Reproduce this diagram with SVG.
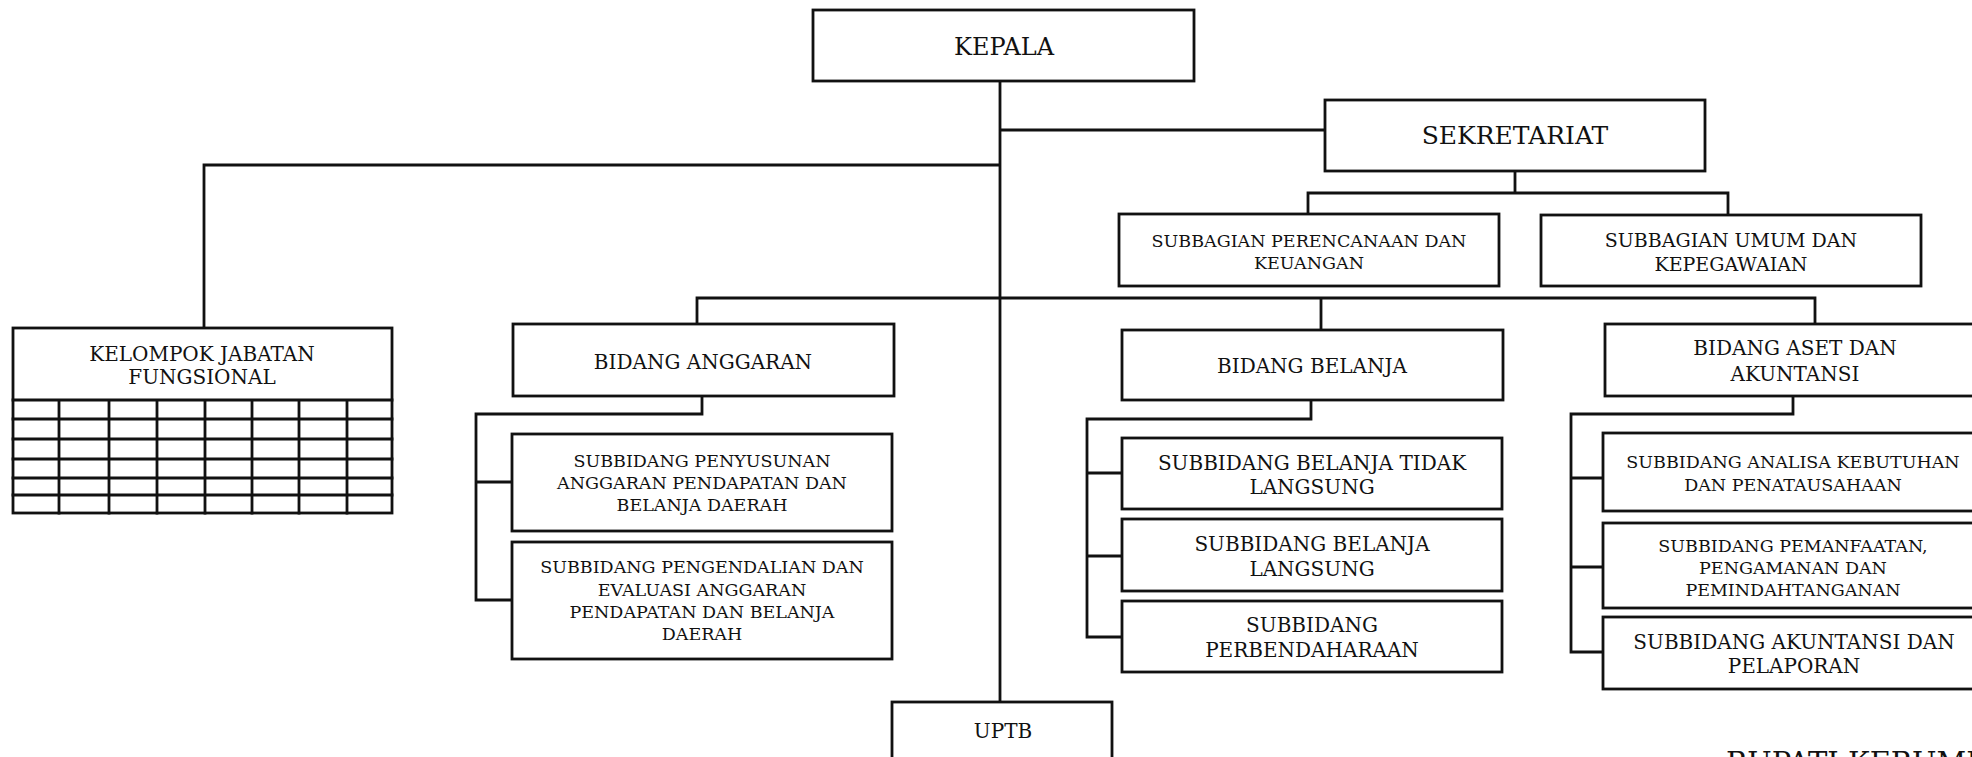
<svg xmlns="http://www.w3.org/2000/svg" width="1972" height="757" viewBox="0 0 1972 757">
<style>
.box{fill:#fff;stroke:#111;stroke-width:2.8}
.ln{fill:none;stroke:#111;stroke-width:2.8;stroke-linecap:square}
text{font-family:"DejaVu Serif","Liberation Serif",serif;fill:#111;text-anchor:middle}
.f24{font-size:24px}.f25{font-size:25px}.f20{font-size:20px}.f17{font-size:17.5px}.f18{font-size:19px}
</style>
<rect width="1972" height="757" fill="#fff"/>
<g id="connectors">
<path class="ln" d="M1000,81V702M1000,130H1325M204,165H1000M204,165V328"/>
<path class="ln" d="M1515,171V193M1308,193H1728M1308,193V214M1728,193V215"/>
<path class="ln" d="M697,298H1815M697,298V324M1321,298V330M1815,298V324"/>
<path class="ln" d="M702,396V414M476,414H702M476,414V600M476,482H512M476,600H512"/>
<path class="ln" d="M1311,400V419M1087,419H1311M1087,419V637M1087,473H1122M1087,556H1122M1087,637H1122"/>
<path class="ln" d="M1793,396V414M1571,414H1793M1571,414V652M1571,478H1603M1571,567H1603M1571,652H1603"/>
</g>
<g id="kepala"><rect class="box" x="813" y="10" width="381" height="71"/><text class="f24" x="1004" y="55">KEPALA</text></g>
<g id="sekretariat"><rect class="box" x="1325" y="100" width="380" height="71"/><text class="f25" x="1515" y="144">SEKRETARIAT</text></g>
<g id="subbagian-perencanaan"><rect class="box" x="1119" y="214" width="380" height="72"/><text class="f17" x="1309" y="247">SUBBAGIAN PERENCANAAN DAN</text><text class="f17" x="1309" y="269">KEUANGAN</text></g>
<g id="subbagian-umum"><rect class="box" x="1541" y="215" width="380" height="71"/><text class="f18" x="1731" y="247">SUBBAGIAN UMUM DAN</text><text class="f18" x="1731" y="271">KEPEGAWAIAN</text></g>
<g id="kelompok">
<rect class="box" x="13" y="328" width="379" height="185"/>
<path class="ln" d="M13,400H392M13,419H392M13,439H392M13,459H392M13,478H392M13,495H392M59,400V513M109,400V513M157,400V513M205,400V513M252,400V513M299,400V513M347,400V513"/>
<text class="f20" x="202" y="361">KELOMPOK JABATAN</text><text class="f20" x="202" y="384">FUNGSIONAL</text>
</g>
<g id="bidang-anggaran"><rect class="box" x="513" y="324" width="381" height="72"/><text class="f20" x="703" y="369">BIDANG ANGGARAN</text></g>
<g id="subbidang-penyusunan"><rect class="box" x="512" y="434" width="380" height="97"/><text class="f17" x="702" y="467">SUBBIDANG PENYUSUNAN</text><text class="f17" x="702" y="489">ANGGARAN PENDAPATAN DAN</text><text class="f17" x="702" y="511">BELANJA DAERAH</text></g>
<g id="subbidang-pengendalian"><rect class="box" x="512" y="542" width="380" height="117"/><text class="f17" x="702" y="573">SUBBIDANG PENGENDALIAN DAN</text><text class="f17" x="702" y="596">EVALUASI ANGGARAN</text><text class="f17" x="702" y="618">PENDAPATAN DAN BELANJA</text><text class="f17" x="702" y="640">DAERAH</text></g>
<g id="bidang-belanja"><rect class="box" x="1122" y="330" width="381" height="70"/><text class="f20" x="1312" y="373">BIDANG BELANJA</text></g>
<g id="subbidang-btl"><rect class="box" x="1122" y="438" width="380" height="71"/><text class="f20" x="1312" y="470">SUBBIDANG BELANJA TIDAK</text><text class="f20" x="1312" y="494">LANGSUNG</text></g>
<g id="subbidang-bl"><rect class="box" x="1122" y="519" width="380" height="72"/><text class="f20" x="1312" y="551">SUBBIDANG BELANJA</text><text class="f20" x="1312" y="576">LANGSUNG</text></g>
<g id="subbidang-perbendaharaan"><rect class="box" x="1122" y="601" width="380" height="71"/><text class="f20" x="1312" y="632">SUBBIDANG</text><text class="f20" x="1312" y="657">PERBENDAHARAAN</text></g>
<g id="bidang-aset"><rect class="box" x="1605" y="324" width="380" height="72"/><text class="f20" x="1795" y="355">BIDANG ASET DAN</text><text class="f20" x="1795" y="381">AKUNTANSI</text></g>
<g id="subbidang-analisa"><rect class="box" x="1603" y="433" width="380" height="78"/><text class="f17" x="1793" y="468">SUBBIDANG ANALISA KEBUTUHAN</text><text class="f17" x="1793" y="491">DAN PENATAUSAHAAN</text></g>
<g id="subbidang-pemanfaatan"><rect class="box" x="1603" y="523" width="380" height="85"/><text class="f17" x="1793" y="552">SUBBIDANG PEMANFAATAN,</text><text class="f17" x="1793" y="574">PENGAMANAN DAN</text><text class="f17" x="1793" y="596">PEMINDAHTANGANAN</text></g>
<g id="subbidang-akuntansi"><rect class="box" x="1603" y="617" width="380" height="72"/><text class="f20" x="1794" y="649">SUBBIDANG AKUNTANSI DAN</text><text class="f20" x="1794" y="673">PELAPORAN</text></g>
<g id="uptb"><rect class="box" x="892" y="702" width="220" height="80"/><text class="f20" x="1003" y="738">UPTB</text></g>
<text x="1726" y="773" style="font-size:29px;text-anchor:start">BUPATI KEBUMEN</text>
</svg>
